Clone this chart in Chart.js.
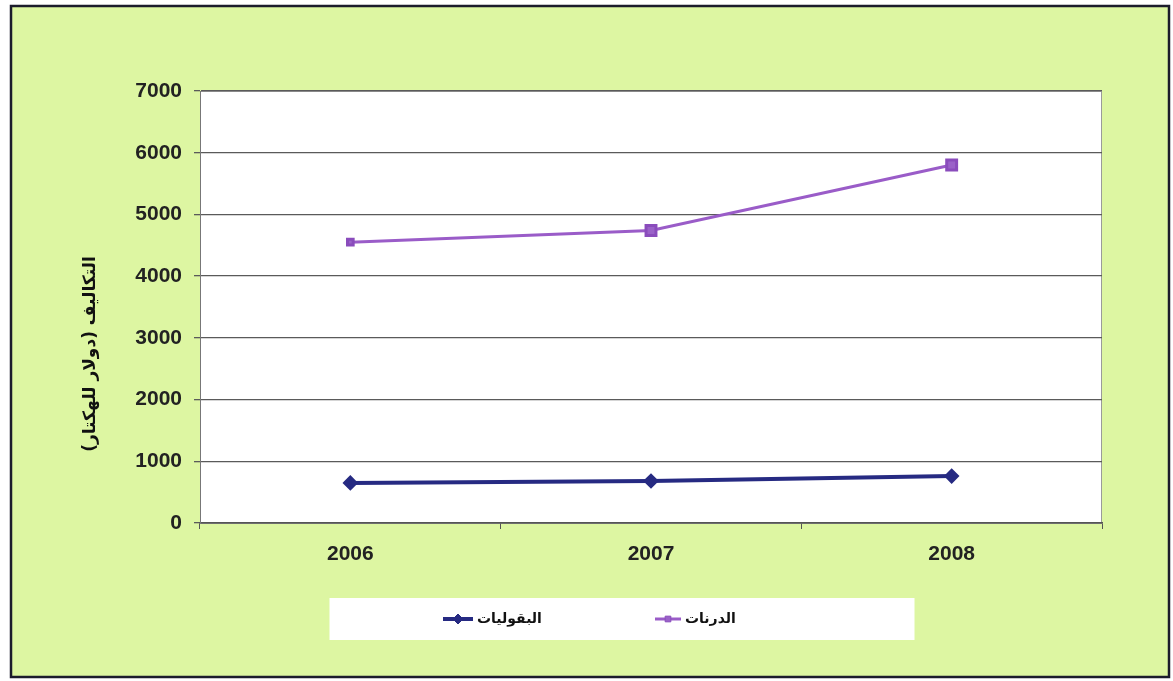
<!DOCTYPE html>
<html>
<head>
<meta charset="utf-8">
<script src="https://cdn.jsdelivr.net/npm/chart.js@4/dist/chart.umd.min.js"></script>
<style>
html,body{margin:0;padding:0;background:#fff;}
canvas{display:block;}
</style>
</head>
<body>
<canvas id="c" width="1173" height="681"></canvas>
<script>
const years = ['2006', '2007', '2008'];
const legumes = [650, 680, 760];       // البقوليات
const tubers = [4550, 4740, 5800];     // الدرنات
const seriesNames = ['البقوليات', 'الدرنات'];
const yTicks = [0, 1000, 2000, 3000, 4000, 5000, 6000, 7000];
const yTitle = 'التكاليف (دولار للهكتار)';

const bgPlugin = {
  id: 'bg',
  beforeDraw(chart) {
    const ctx = chart.ctx, ca = chart.chartArea;
    ctx.save();
    ctx.fillStyle = '#ffffff';
    ctx.fillRect(0, 0, chart.width, chart.height);
    ctx.fillStyle = '#ddf6a2';
    ctx.fillRect(11, 6, 1158, 671);
    ctx.strokeStyle = '#1c1c2c';
    ctx.lineWidth = 2.5;
    ctx.strokeRect(11, 6, 1158, 671);
    ctx.fillStyle = '#ffffff';
    ctx.fillRect(ca.left, ca.top, ca.right - ca.left, ca.bottom - ca.top);
    ctx.strokeStyle = '#9a9a9a';
    ctx.lineWidth = 1;
    ctx.strokeRect(ca.left + 0.5, ca.top + 0.5, ca.right - ca.left - 1, ca.bottom - ca.top);
    ctx.restore();
  },
  afterDraw(chart) {
    const ctx = chart.ctx, ca = chart.chartArea;
    ctx.save();
    ctx.translate(91, ca.top + 263);
    ctx.rotate(-Math.PI / 2);
    ctx.font = 'bold 17px "DejaVu Sans"';
    ctx.fillStyle = '#111';
    ctx.textAlign = 'center';
    ctx.textBaseline = 'middle';
    ctx.fillText(yTitle, 0, 0);
    ctx.restore();
  }
};

const legendPlugin = {
  id: 'boxLegend',
  afterDraw(chart) {
    const ctx = chart.ctx, ca = chart.chartArea;
    const boxW = 585, boxH = 42;
    const cx = 622;
    const top = ca.bottom + 75;
    ctx.save();
    ctx.fillStyle = '#ffffff';
    ctx.fillRect(cx - boxW / 2, top, boxW, boxH);
    const cy = top + boxH / 2;
    ctx.font = 'bold 14px "DejaVu Sans"';
    ctx.textBaseline = 'middle';
    ctx.textAlign = 'left';
    const starts = [443, 655];
    const lineLens = [30, 26];
    chart.data.datasets.forEach((ds, i) => {
      const x0 = starts[i];
      const len = lineLens[i];
      ctx.strokeStyle = ds.borderColor;
      ctx.lineWidth = ds.borderWidth;
      ctx.beginPath();
      ctx.moveTo(x0, cy);
      ctx.lineTo(x0 + len, cy);
      ctx.stroke();
      ctx.fillStyle = ds.pointBackgroundColor;
      ctx.strokeStyle = ds.pointBorderColor;
      ctx.lineWidth = 1;
      Chart.helpers.drawPoint(ctx, {pointStyle: ds.pointStyle, radius: ds.legendRadius, rotation: 0, borderWidth: 1}, x0 + len / 2, cy);
      ctx.fillStyle = '#111';
      ctx.fillText(ds.label, x0 + len + 4, cy);
    });
    ctx.restore();
  }
};

new Chart(document.getElementById('c'), {
  type: 'line',
  data: {
    labels: years,
    datasets: [
      {
        label: seriesNames[0],
        data: legumes,
        borderColor: '#262a82',
        backgroundColor: '#262a82',
        pointBackgroundColor: '#262a82',
        pointBorderColor: '#262a82',
        borderWidth: 4,
        pointStyle: 'rectRot',
        pointRadius: 5,
        legendRadius: 5,
        tension: 0
      },
      {
        label: seriesNames[1],
        data: tubers,
        borderColor: '#9a5cc8',
        backgroundColor: '#9a5cc8',
        pointBackgroundColor: '#9a62c8',
        pointBorderColor: '#8a4cbc',
        borderWidth: 3,
        pointStyle: 'rect',
        pointRadius: [4, 7, 7],
        legendRadius: 4,
        tension: 0
      }
    ]
  },
  options: {
    responsive: false,
    animation: false,
    layout: { padding: { left: 0, top: 91, right: 71, bottom: 108 } },
    plugins: {
      legend: { display: false },
      tooltip: { enabled: false }
    },
    scales: {
      x: {
        offset: true,
        grid: {
          offset: true,
          drawOnChartArea: false,
          drawTicks: true,
          tickLength: 6,
          color: '#555',
          lineWidth: 1
        },
        border: { display: true, color: '#555', width: 1.5 },
        ticks: {
          padding: 13,
          color: '#222',
          font: { family: '"Liberation Sans", Arial, sans-serif', size: 21, weight: 'bold' }
        },
        afterFit(scale) { scale.height = 50; }
      },
      y: {
        min: 0,
        max: 7000,
        afterBuildTicks(scale) { scale.ticks = yTicks.map(v => ({ value: v })); },
        grid: {
          color: '#5a5a5a',
          lineWidth: 1.3,
          tickLength: 6,
          drawTicks: true
        },
        border: { display: true, color: '#777', width: 1 },
        ticks: {
          padding: 12,
          color: '#222',
          callback: (v) => String(v),
          font: { family: '"Liberation Sans", Arial, sans-serif', size: 21, weight: 'bold' }
        },
        title: { display: false },
        afterFit(scale) { scale.width = 200; }
      }
    }
  },
  plugins: [bgPlugin, legendPlugin]
});
</script>
</body>
</html>
